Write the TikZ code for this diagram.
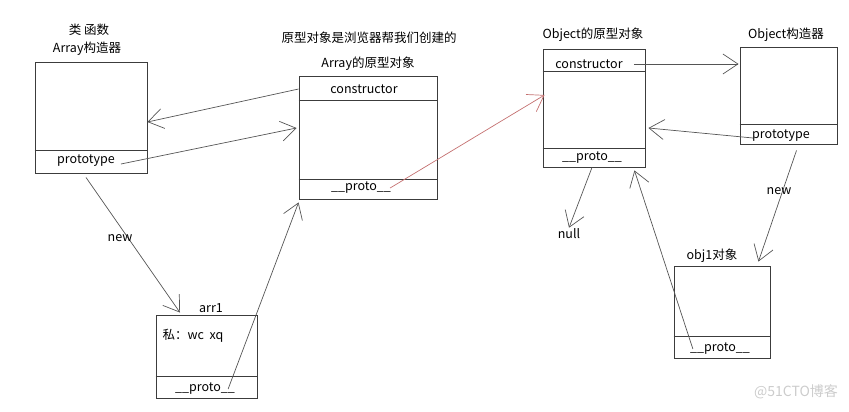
\documentclass[tikz,border=0pt]{standalone}
\usepackage{fontspec}
\setmainfont{Noto Sans CJK SC}
\usepackage{xcolor}
\definecolor{boxgray}{RGB}{60,60,60}
\definecolor{linegray}{RGB}{85,85,85}
\definecolor{protored}{RGB}{196,112,112}
\usetikzlibrary{arrows.meta, positioning}

\begin{document}
\begin{tikzpicture}[x=1pt, y=-1pt,
  box/.style 2 args={draw=boxgray, line width=0.9pt, minimum width=#1pt, minimum height=#2pt, inner sep=0pt},
  divline/.style={draw=boxgray, line width=0.8pt},
  lbl/.style={font=\fontsize{12.5}{14}\selectfont, inner sep=1pt, text=black},
  link/.style={draw=linegray, line width=0.7pt, -{Straight Barb[length=15pt, width=20pt, line width=0.7pt]}}]
  \useasboundingbox (0,0) rectangle (849,412);

  % --- Array constructor ---
  \node[box={112}{111}] (arrCtor) at (91,117.5) {};
  \draw[divline] (arrCtor.west |- 0,150) -- (arrCtor.east |- 0,150);
  \node[lbl] (arrCtorType) at (89,30) {类 函数};
  \node[lbl] (arrCtorName) at (87,49) {Array构造器};
  \node[lbl] (arrCtorPt) at (86,161) {prototype};

  % --- Array prototype object ---
  \node[lbl] (browserNote) at (369,38) {原型对象是浏览器帮我们创建的};
  \node[box={138}{123}] (arrProto) at (368,137.5) {};
  \draw[divline] (arrProto.west |- 0,100) -- (arrProto.east |- 0,100);
  \draw[divline] (arrProto.west |- 0,179) -- (arrProto.east |- 0,179);
  \node[lbl] (arrProtoName) at (368,64) {Array的原型对象};
  \node[lbl] (arrProtoCons) at (364,89) {constructor};
  \node[lbl] (arrProtoPr) at (361,188) {\_\_proto\_\_};

  % --- Object prototype object ---
  \node[box={102}{118}] (objProto) at (594,108) {};
  \draw[divline] (objProto.west |- 0,71) -- (objProto.east |- 0,71);
  \draw[divline] (objProto.west |- 0,148) -- (objProto.east |- 0,148);
  \node[lbl] (objProtoName) at (593,35) {Object的原型对象};
  \node[lbl] (objProtoCons) at (589,64) {constructor};
  \node[lbl] (objProtoPr) at (592,158) {\_\_proto\_\_};
  \node[lbl] (nullLbl) at (569,234) {null};

  % --- Object constructor ---
  \node[box={97}{97}] (objCtor) at (788.5,95.5) {};
  \draw[divline] (objCtor.west |- 0,124) -- (objCtor.east |- 0,124);
  \node[lbl] (objCtorName) at (786,35) {Object构造器};
  \node[lbl] (objCtorPt) at (781,136) {prototype};

  % --- instances ---
  \node[box={101}{83}] (arr1) at (206.5,356.5) {};
  \draw[divline] (arr1.west |- 0,376) -- (arr1.east |- 0,376);
  \node[lbl] (arr1Name) at (211,308) {arr1};
  \node[lbl] (arr1Own) at (193,336) {私：wc\ \ xq};
  \node[lbl] (arr1Pr) at (205,389) {\_\_proto\_\_};

  \node[box={96}{92}] (obj1) at (722,312) {};
  \draw[divline] (obj1.west |- 0,336) -- (obj1.east |- 0,336);
  \node[lbl] (obj1Name) at (712,256) {obj1对象};
  \node[lbl] (obj1Pr) at (720,349) {\_\_proto\_\_};

  % --- links ---
  \draw[link] (arrProto.west |- arrProtoCons) -- ([yshift=-4.5pt]arrCtor.east);
  \draw[link] ([xshift=5pt, yshift=-3pt]arrCtorPt.east) -- ([xshift=-2pt, yshift=9.5pt]arrProto.west);
  \draw[link] ([xshift=-5pt, yshift=-4pt]arrCtor.south) -- ([xshift=-26.5pt, yshift=2pt]arr1.north);
  \node[lbl] (newArr) at (120,238) {new};
  \draw[link] ([xshift=-8pt]arr1Pr.east) -- ([yshift=-3pt]arrProto.south west);
  \draw[link, draw=protored, -{Straight Barb[length=15pt, width=20pt, line width=0.7pt, color=protored]}]
    ([xshift=-2pt]arrProtoPr.east) -- ([xshift=2pt, yshift=13pt]objProto.west);
  \draw[link] ([xshift=10pt]objProtoCons.east) -- ([xshift=-1pt]objCtor.west |- objProtoCons);
  \draw[link] ([xshift=2pt, yshift=-2pt]objCtorPt.west) -- ([xshift=3pt, yshift=-20pt]objProto.east);
  \draw[link] ([xshift=-2pt]objProto.south) -- (nullLbl.north);
  \draw[link] ([xshift=4pt]obj1Pr.west) -- ([xshift=-11pt, yshift=-3pt]objProto.south east);
  \draw[link] ([xshift=8pt, yshift=-6pt]objCtor.south) -- ([xshift=-12pt, yshift=4pt]obj1.north east);
  \node[lbl] (newObj) at (779,191) {new};

  % watermark
  \node[font=\fontsize{14}{16}\selectfont, text=gray!40] (mark) at (796,392) {@51CTO博客};
\end{tikzpicture}
\end{document}
